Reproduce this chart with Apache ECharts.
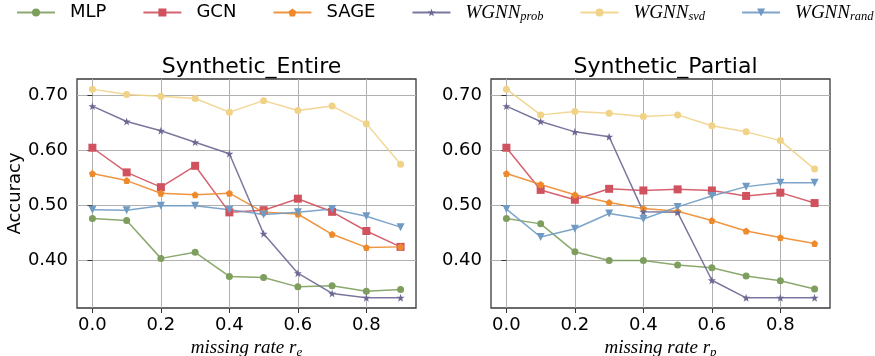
<!DOCTYPE html>
<html>
<head>
<meta charset="utf-8">
<script src="https://cdn.jsdelivr.net/npm/echarts@6/dist/echarts.min.js"></script>
<style>html,body{margin:0;padding:0;background:#fff}#c{width:875px;height:356px}</style>
</head>
<body>
<div id="c"></div>
<script>
const xVals = [0, 0.1, 0.2, 0.3, 0.4, 0.5, 0.6, 0.7, 0.8, 0.9];
const xTicks = [0, 0.2, 0.4, 0.6, 0.8];
const yTicks = [0.4, 0.5, 0.6, 0.7];
const seriesNames = ['MLP', 'GCN', 'SAGE', 'WGNN_prob', 'WGNN_svd', 'WGNN_rand'];
const panelTitles = ['Synthetic_Entire', 'Synthetic_Partial'];

const entire_mlp  = [0.476, 0.472, 0.403, 0.414, 0.370, 0.368, 0.351, 0.353, 0.343, 0.346];
const entire_gcn  = [0.605, 0.560, 0.533, 0.572, 0.487, 0.491, 0.512, 0.488, 0.453, 0.424];
const entire_sage = [0.558, 0.545, 0.522, 0.519, 0.522, 0.487, 0.484, 0.447, 0.423, 0.424];
const entire_prob = [0.681, 0.653, 0.636, 0.615, 0.594, 0.448, 0.376, 0.339, 0.331, 0.331];
const entire_svd  = [0.712, 0.702, 0.699, 0.695, 0.670, 0.691, 0.673, 0.681, 0.649, 0.575];
const entire_rand = [0.492, 0.491, 0.499, 0.499, 0.492, 0.483, 0.487, 0.493, 0.480, 0.460];

const partial_mlp  = [0.476, 0.466, 0.415, 0.399, 0.399, 0.391, 0.386, 0.371, 0.362, 0.347];
const partial_gcn  = [0.605, 0.528, 0.510, 0.530, 0.527, 0.529, 0.527, 0.517, 0.523, 0.504];
const partial_sage = [0.558, 0.538, 0.519, 0.505, 0.494, 0.489, 0.472, 0.453, 0.441, 0.430];
const partial_prob = [0.681, 0.653, 0.634, 0.625, 0.488, 0.487, 0.363, 0.331, 0.331, 0.331];
const partial_svd  = [0.712, 0.665, 0.671, 0.668, 0.662, 0.665, 0.645, 0.634, 0.618, 0.566];
const partial_rand = [0.493, 0.442, 0.457, 0.485, 0.475, 0.497, 0.517, 0.534, 0.541, 0.541];

const entireData = [entire_mlp, entire_gcn, entire_sage, entire_prob, entire_svd, entire_rand];
const partialData = [partial_mlp, partial_gcn, partial_sage, partial_prob, partial_svd, partial_rand];

const colors = ['#7e9e5e', '#d0525f', '#ee8a2c', '#6b6894', '#f1d388', '#6f9ac3'];
const starPath = 'path://M50,0 L61.8,35.5 L99,35.5 L69,57.5 L80.5,93 L50,71 L19.5,93 L31,57.5 L1,35.5 L38.2,35.5 Z';
const pentPath = 'path://M50,0 L97.6,34.5 L79.4,90.5 L20.6,90.5 L2.4,34.5 Z';
const symbols = ['circle', 'rect', pentPath, starPath, 'circle', 'triangle'];
const symbolSizes = [7, 8, 7, 8, 7, 8];
const symbolRot = [0, 0, 0, 0, 0, 180];

const grids = [
  {left: 77, top: 79, width: 339, height: 229},
  {left: 491, top: 79, width: 339, height: 229}
];
const xNames = ['{i|missing rate r}{s|e}', '{i|missing rate r}{s|p}'];
const sansFont = '"DejaVu Sans", sans-serif';
const serifFont = '"Liberation Serif", "DejaVu Serif", serif';

const option = {
  backgroundColor: '#fff',
  animation: false,
  title: grids.map((g, i) => ({
    text: panelTitles[i],
    left: g.left + g.width / 2,
    top: 51,
    textAlign: 'center',
    textStyle: {fontFamily: sansFont, fontSize: 22, fontWeight: 'normal', color: '#000'}
  })),
  legend: {
    left: 16, top: 3, right: -40, padding: 0,
    itemWidth: 38, itemHeight: 10, itemGap: 36,
    data: seriesNames,
    formatter: function (n) {
      if (n.indexOf('WGNN_') === 0) return '{m|WGNN}{s|' + n.slice(5) + '}';
      return n;
    },
    textStyle: {
      fontFamily: sansFont, fontSize: 18, color: '#000', padding: [0, 0, 0, 10],
      rich: {
        m: {fontFamily: serifFont, fontStyle: 'italic', fontSize: 19, color: '#000'},
        s: {fontFamily: serifFont, fontStyle: 'italic', fontSize: 12.5, color: '#000', padding: [9, 0, 0, 0]}
      }
    }
  },
  grid: grids.map(g => Object.assign({show: true, borderColor: '#3a3a3a', borderWidth: 1.3, backgroundColor: 'transparent', containLabel: false, outerBoundsMode: 'none'}, g)),
  xAxis: grids.map((g, i) => ({
    type: 'value', gridIndex: i, min: -0.045, max: 0.945,
    name: xNames[i], nameLocation: 'middle', nameGap: 23,
    nameTextStyle: {
      rich: {
        i: {fontFamily: serifFont, fontStyle: 'italic', fontSize: 19, color: '#000'},
        s: {fontFamily: serifFont, fontStyle: 'italic', fontSize: 13, color: '#000', padding: [8, 0, 0, 0]}
      }
    },
    axisLine: {show: false},
    axisTick: {show: true, length: 5, customValues: xTicks, lineStyle: {color: '#333'}},
    axisLabel: {customValues: xTicks, margin: 8, fontFamily: sansFont, fontSize: 18, color: '#000', formatter: v => v.toFixed(1)},
    splitLine: {show: true, lineStyle: {color: '#b0b0b0', width: 1}}
  })),
  yAxis: grids.map((g, i) => ({
    type: 'value', gridIndex: i, min: 0.3124, max: 0.7305,
    name: i === 0 ? 'Accuracy' : '', nameLocation: 'middle', nameGap: 52,
    nameTextStyle: {fontFamily: sansFont, fontSize: 18, color: '#000'},
    axisLine: {show: false},
    axisTick: {show: true, length: 5, customValues: yTicks, lineStyle: {color: '#333'}},
    axisLabel: {customValues: yTicks, margin: 9, fontFamily: sansFont, fontSize: 18, color: '#000', formatter: v => v.toFixed(2)},
    splitLine: {show: true, lineStyle: {color: '#b0b0b0', width: 1}}
  })),
  series: []
};

[entireData, partialData].forEach((panel, p) => {
  panel.forEach((vals, k) => {
    option.series.push({
      name: seriesNames[k], type: 'line', xAxisIndex: p, yAxisIndex: p,
      data: xVals.map((x, j) => [x, vals[j]]),
      symbol: symbols[k], symbolSize: symbolSizes[k], symbolRotate: symbolRot[k],
      showAllSymbol: true,
      itemStyle: {color: colors[k]},
      lineStyle: {color: colors[k], width: 1.5, opacity: 0.9}
    });
  });
});

const chart = echarts.init(document.getElementById('c'), null, {renderer: 'canvas'});
chart.setOption(option);
</script>
</body>
</html>
